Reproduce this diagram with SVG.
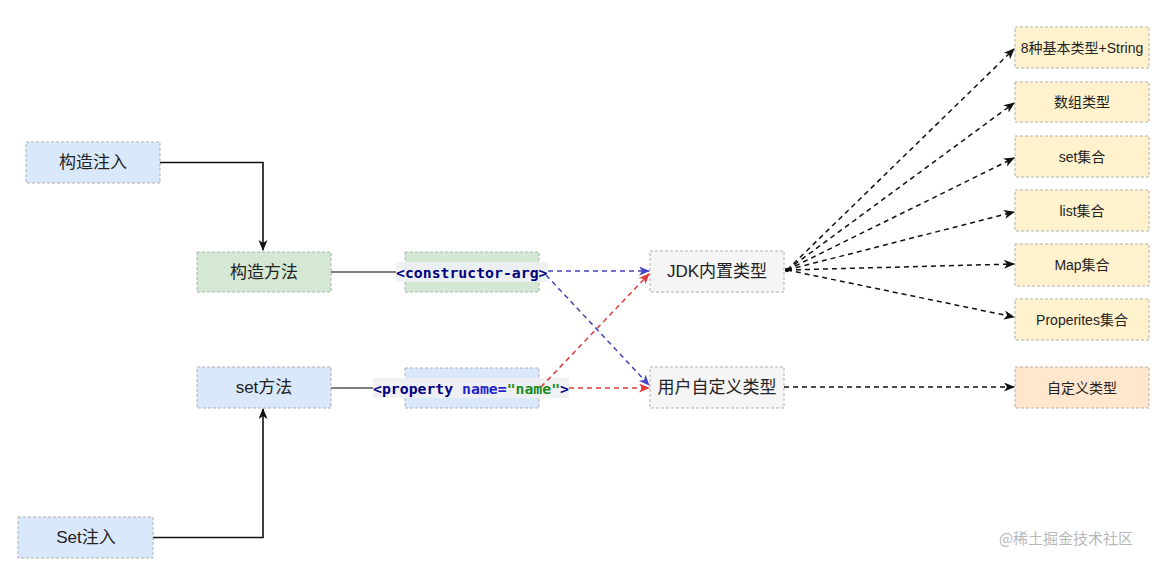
<svg xmlns="http://www.w3.org/2000/svg" width="1161" height="576" viewBox="0 0 1161 576">
<style>
.box{stroke:#b0b0b0;stroke-width:1;stroke-dasharray:3 2}
.blue{fill:#dae8fc}.green{fill:#d5e8d4}.grey{fill:#f5f5f5}.yellow{fill:#fff2cc}.orange{fill:#ffe6cc}
.t{font-family:"Liberation Sans","Noto Sans CJK SC",sans-serif;fill:#222;text-anchor:middle;dominant-baseline:central}
.big{font-size:17px}.small{font-size:14px}
.code{font-family:"DejaVu Sans Mono","Liberation Mono",monospace;font-weight:bold;font-size:14.8px;dominant-baseline:central}
.solid{fill:none;stroke:#111;stroke-width:1.6}
.plain{fill:none;stroke:#555;stroke-width:1.6}
.dash{fill:none;stroke:#111;stroke-width:1.5;stroke-dasharray:5 4}
.bdash{fill:none;stroke:#4444bb;stroke-width:1.5;stroke-dasharray:5 4}
.rdash{fill:none;stroke:#e03a3a;stroke-width:1.5;stroke-dasharray:5 4}
</style>
<defs>
<marker id="ab" markerUnits="userSpaceOnUse" markerWidth="12" markerHeight="10" refX="10" refY="4.5" orient="auto"><path d="M0,0 L11,4.5 L0,9 L3,4.5 z" fill="#111"/></marker>
<marker id="abl" markerUnits="userSpaceOnUse" markerWidth="12" markerHeight="10" refX="10" refY="4.5" orient="auto"><path d="M0,0 L11,4.5 L0,9 L3,4.5 z" fill="#4444cc"/></marker>
<marker id="ar" markerUnits="userSpaceOnUse" markerWidth="12" markerHeight="10" refX="10" refY="4.5" orient="auto"><path d="M0,0 L11,4.5 L0,9 L3,4.5 z" fill="#e03a3a"/></marker>
</defs>
<rect width="1161" height="576" fill="#fff"/>

<g id="n-gouzaozhuru"><rect class="box blue" x="26" y="142" width="134" height="41"/><text class="t big" x="93" y="162.5">构造注入</text></g>
<g id="n-gouzaofangfa"><rect class="box green" x="197" y="252" width="134" height="40"/><text class="t big" x="264" y="272">构造方法</text></g>
<g id="n-setfangfa"><rect class="box blue" x="197" y="367" width="134" height="41"/><text class="t big" x="264" y="387.5">set方法</text></g>
<g id="n-setzhuru"><rect class="box blue" x="18" y="517" width="135" height="41"/><text class="t big" x="86" y="537.5">Set注入</text></g>

<g id="n-ctorarg"><rect class="box green" x="405" y="252" width="134" height="40"/>
<rect x="396" y="262" width="152" height="20" fill="#eef0f2" opacity="0.9"/>
<text class="code" x="396" y="272" fill="#000080">&lt;constructor-arg&gt;</text></g>
<g id="n-property"><rect class="box blue" x="405" y="368" width="134" height="40"/>
<rect x="373" y="378" width="196" height="20" fill="#eef0f2" opacity="0.9"/>
<text class="code" x="373" y="388"><tspan fill="#000080">&lt;property </tspan><tspan fill="#2222cc">name=</tspan><tspan fill="#1a8a1a">"name"</tspan><tspan fill="#000080">&gt;</tspan></text></g>

<g id="n-jdk"><rect class="box grey" x="650" y="251" width="134" height="41"/><text class="t big" x="717" y="271.5" fill="#333">JDK内置类型</text></g>
<g id="n-user"><rect class="box grey" x="650" y="367" width="134" height="41"/><text class="t big" x="717" y="387.5" fill="#333">用户自定义类型</text></g>

<g id="n-r1"><rect class="box yellow" x="1015" y="27" width="134" height="41"/><text class="t small" x="1082" y="47.5">8种基本类型+String</text></g>
<g id="n-r2"><rect class="box yellow" x="1015" y="82" width="134" height="40"/><text class="t small" x="1082" y="102">数组类型</text></g>
<g id="n-r3"><rect class="box yellow" x="1015" y="136" width="134" height="41"/><text class="t small" x="1082" y="156.5">set集合</text></g>
<g id="n-r4"><rect class="box yellow" x="1015" y="190" width="134" height="41"/><text class="t small" x="1082" y="210.5">list集合</text></g>
<g id="n-r5"><rect class="box yellow" x="1015" y="244" width="134" height="42"/><text class="t small" x="1082" y="265">Map集合</text></g>
<g id="n-r6"><rect class="box yellow" x="1015" y="299" width="134" height="41"/><text class="t small" x="1082" y="319.5">Properites集合</text></g>
<g id="n-r7"><rect class="box orange" x="1015" y="367" width="134" height="41"/><text class="t small" x="1082" y="387.5">自定义类型</text></g>

<g id="connectors">
<path class="solid" d="M160,162.5 H263 V250" marker-end="url(#ab)"/>
<path class="solid" d="M153,537.5 H263 V409" marker-end="url(#ab)"/>
<path class="plain" d="M331,272 H396"/>
<path class="plain" d="M331,388 H373"/>
<path class="bdash" d="M548,271 H649" marker-end="url(#abl)"/>
<path class="bdash" d="M546,275 L649,385" marker-end="url(#abl)"/>
<path class="rdash" d="M541,387 L649,274" marker-end="url(#ar)"/>
<path class="rdash" d="M569,388 H649" marker-end="url(#ar)"/>
<circle cx="787" cy="270" r="2.2" fill="#111"/>
<path class="dash" d="M787,270 L1014,49" marker-end="url(#ab)"/>
<path class="dash" d="M787,270 L1014,103" marker-end="url(#ab)"/>
<path class="dash" d="M787,270 L1014,158" marker-end="url(#ab)"/>
<path class="dash" d="M787,270 L1014,212" marker-end="url(#ab)"/>
<path class="dash" d="M787,270 L1014,264" marker-end="url(#ab)"/>
<path class="dash" d="M787,270 L1014,317" marker-end="url(#ab)"/>
<path class="dash" d="M784,387 H1014" marker-end="url(#ab)"/>
</g>
<text x="1066" y="537" font-family="'Noto Sans CJK SC',sans-serif" font-size="15" fill="#b8b8b8" text-anchor="middle" dominant-baseline="central">@稀土掘金技术社区</text>
</svg>
